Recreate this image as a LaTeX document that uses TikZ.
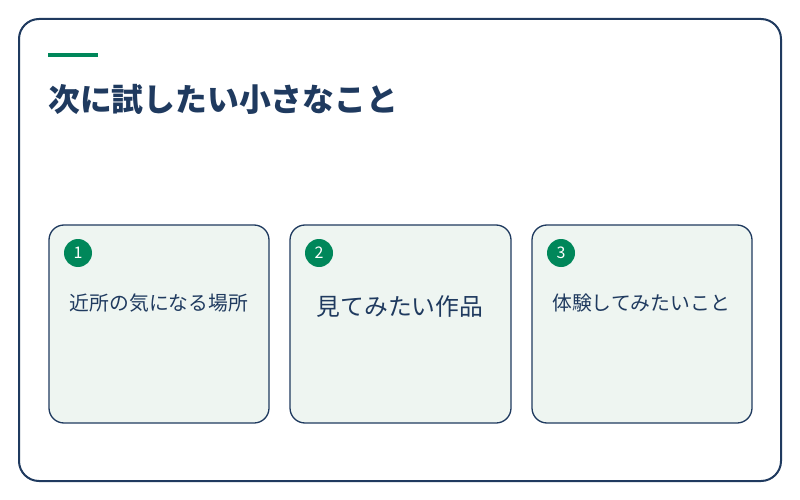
\documentclass[tikz,border=0pt]{standalone}
\usepackage{fontspec}
\newfontfamily\cjk{Noto Sans CJK JP}
\definecolor{navy}{HTML}{1F3A5F}
\definecolor{grn}{HTML}{00875A}
\definecolor{cardbg}{HTML}{EEF5F1}
\begin{document}
\begin{tikzpicture}[x=1pt,y=-1pt,
  card/.style={draw=navy,line width=1.3pt,fill=cardbg,rounded corners=15pt},
  num/.style={circle,fill=grn,minimum size=28pt,inner sep=0pt,text=white,font=\cjk\fontsize{16}{16}\selectfont},
  lbl/.style={text=navy,font=\cjk\fontsize{19.8}{22}\selectfont}]
\useasboundingbox (0,0) rectangle (800,500);
\fill[white] (0,0) rectangle (800,500);
\draw[navy,line width=2pt,rounded corners=20pt] (19,19) rectangle (781,481);
\draw[grn,line width=4pt] (48,55) -- (98,55);
\node[anchor=base west,inner sep=0pt,text=navy,font=\cjk\bfseries\fontsize{31.8}{34}\selectfont] (title) at (48,112) {次に試したい小さなこと};
\draw[card] (49,225) rectangle (269,423);
\draw[card] (290,225) rectangle (511,423);
\draw[card] (532,225) rectangle (752,423);
\node[num] (n1) at (78,253) {1};
\node[num] (n2) at (319,253) {2};
\node[num] (n3) at (561,253) {3};
\node[lbl] (t1) at (159,303) {近所の気になる場所};
\node[lbl,font=\cjk\fontsize{23.8}{26}\selectfont] (t2) at (400,307) {見てみたい作品};
\node[lbl] (t3) at (641,303) {体験してみたいこと};
\end{tikzpicture}
\end{document}
